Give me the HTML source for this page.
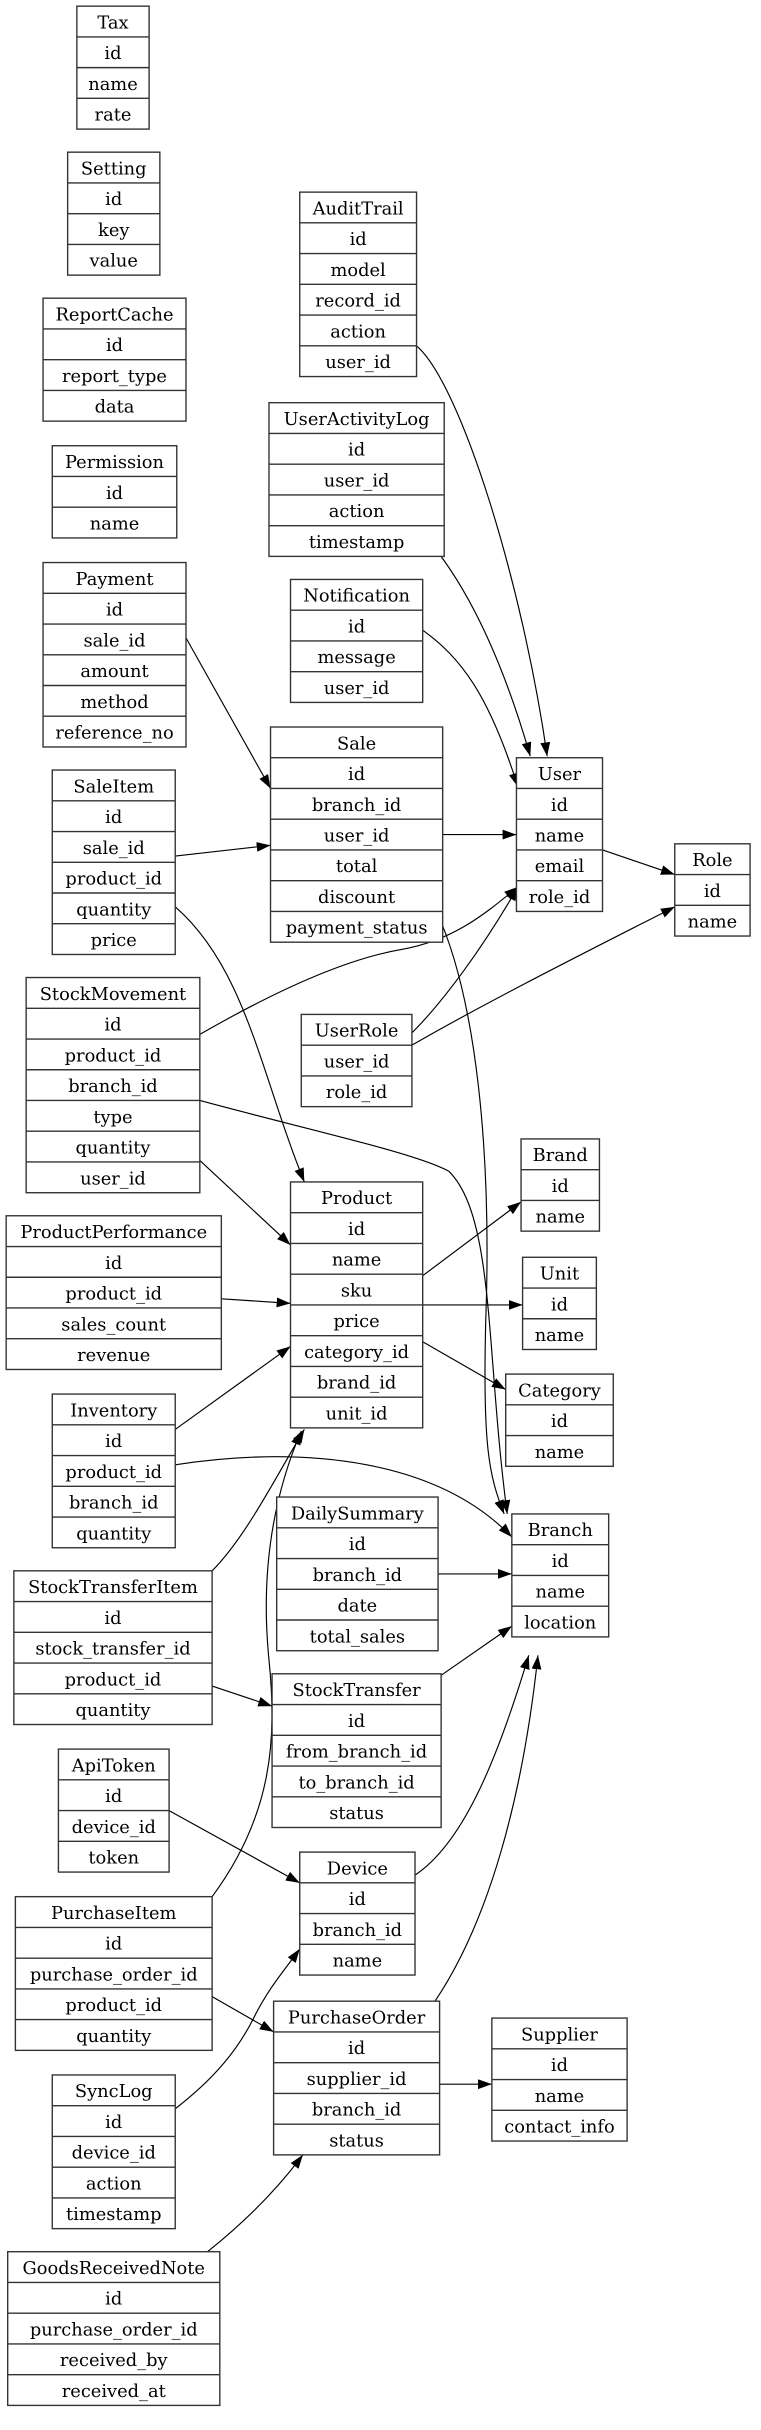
<!DOCTYPE html>
<html><head><meta charset="utf-8"><style>
html,body{margin:0;padding:0;background:#fff}
svg{display:block}
text{font-family:"DejaVu Serif",serif;font-size:11.6px;text-anchor:middle;fill:#000}
.t rect{fill:#fff;stroke:#333;stroke-width:0.9}
.t line{stroke:#333;stroke-width:0.9}
.e path{fill:none;stroke:#000;stroke-width:0.75}
</style></head><body>
<svg width="761" height="2430" viewBox="0 0 495.1 1581" xmlns="http://www.w3.org/2000/svg">
<defs><marker id="a" markerUnits="userSpaceOnUse" markerWidth="10" markerHeight="7" refX="9" refY="3.2" orient="auto"><path d="M0,0 L9,3.2 L0,6.4 z" fill="#000"/></marker></defs>

<g class="e">
<path marker-end="url(#a)" d="M271,225 C300,250 340,380 356,492"/>
<path marker-end="url(#a)" d="M284,358 C310,392 330,440 345,492"/>
<path marker-end="url(#a)" d="M275,410 C300,428 318,452 337,512"/>
<path marker-end="url(#a)" d="M121,415 L176,513"/>
<path marker-end="url(#a)" d="M114,557 L176,550"/>
<path marker-end="url(#a)" d="M288,543 L336,543"/>
<path marker-end="url(#a)" d="M392,553 L439,569"/>
<path marker-end="url(#a)" d="M268,672 C290,650 315,615 337,577"/>
<path marker-end="url(#a)" d="M268,680 C320,650 390,615 439,590"/>
<path marker-end="url(#a)" d="M130,673 C170,650 220,625 260,618 C295,612 315,595 337,577"/>
<path marker-end="url(#a)" d="M114,590 C160,630 170,700 198,769"/>
<path marker-end="url(#a)" d="M284,593 C310,650 320,750 316,860 C314,940 318,960 328,985"/>
<path marker-end="url(#a)" d="M130,716 C200,735 270,750 292,762 C322,792 316,880 330,985"/>
<path marker-end="url(#a)" d="M130,755 L189,810"/>
<path marker-end="url(#a)" d="M144,845 L189,848"/>
<path marker-end="url(#a)" d="M275,830 L339,782"/>
<path marker-end="url(#a)" d="M275,849 L340,849"/>
<path marker-end="url(#a)" d="M275,873 L329,904"/>
<path marker-end="url(#a)" d="M114,930 L189,876"/>
<path marker-end="url(#a)" d="M114,953 C200,940 285,950 333,1000"/>
<path marker-end="url(#a)" d="M138,1022 C160,1000 180,960 198,930"/>
<path marker-end="url(#a)" d="M138,1234 C178,1180 180,1130 175,1080 C170,1030 175,980 196,931"/>
<path marker-end="url(#a)" d="M285,1024 L333,1024"/>
<path marker-end="url(#a)" d="M138,1097 L177,1110"/>
<path marker-end="url(#a)" d="M287,1090 L333,1058"/>
<path marker-end="url(#a)" d="M110,1178 L195,1225"/>
<path marker-end="url(#a)" d="M270,1220 C300,1200 322,1150 344,1077"/>
<path marker-end="url(#a)" d="M114,1372 C140,1352 155,1333 165,1313 C175,1293 185,1282 195,1268"/>
<path marker-end="url(#a)" d="M138,1299 L178,1322"/>
<path marker-end="url(#a)" d="M283,1302 C318,1250 340,1170 350,1077"/>
<path marker-end="url(#a)" d="M286,1356 L320,1356"/>
<path marker-end="url(#a)" d="M135,1465 C160,1445 180,1425 197,1402"/>
</g>

<g class="t"><rect x="50" y="4" width="47" height="80"/><line x1="50" y1="24" x2="97" y2="24"/><line x1="50" y1="44" x2="97" y2="44"/><line x1="50" y1="64" x2="97" y2="64"/>
<text x="73.5" y="18.5">Tax</text><text x="73.5" y="38.5">id</text><text x="73.5" y="58.5">name</text><text x="73.5" y="78.5">rate</text></g>

<g class="t"><rect x="44" y="99" width="60" height="80"/><line x1="44" y1="119" x2="104" y2="119"/><line x1="44" y1="139" x2="104" y2="139"/><line x1="44" y1="159" x2="104" y2="159"/>
<text x="74" y="113.5">Setting</text><text x="74" y="133.5">id</text><text x="74" y="153.5">key</text><text x="74" y="173.5">value</text></g>

<g class="t"><rect x="28" y="194" width="93" height="80"/><line x1="28" y1="214" x2="121" y2="214"/><line x1="28" y1="234" x2="121" y2="234"/><line x1="28" y1="254" x2="121" y2="254"/>
<text x="74.5" y="208.5">ReportCache</text><text x="74.5" y="228.5">id</text><text x="74.5" y="248.5">report_type</text><text x="74.5" y="268.5">data</text></g>

<g class="t"><rect x="34" y="290" width="81" height="60"/><line x1="34" y1="310" x2="115" y2="310"/><line x1="34" y1="330" x2="115" y2="330"/>
<text x="74.5" y="304.5">Permission</text><text x="74.5" y="324.5">id</text><text x="74.5" y="344.5">name</text></g>

<g class="t"><rect x="28" y="366" width="93" height="120"/><line x1="28" y1="386" x2="121" y2="386"/><line x1="28" y1="406" x2="121" y2="406"/><line x1="28" y1="426" x2="121" y2="426"/><line x1="28" y1="446" x2="121" y2="446"/><line x1="28" y1="466" x2="121" y2="466"/>
<text x="74.5" y="380.5">Payment</text><text x="74.5" y="400.5">id</text><text x="74.5" y="420.5">sale_id</text><text x="74.5" y="440.5">amount</text><text x="74.5" y="460.5">method</text><text x="74.5" y="480.5">reference_no</text></g>

<g class="t"><rect x="34" y="501" width="80" height="120"/><line x1="34" y1="521" x2="114" y2="521"/><line x1="34" y1="541" x2="114" y2="541"/><line x1="34" y1="561" x2="114" y2="561"/><line x1="34" y1="581" x2="114" y2="581"/><line x1="34" y1="601" x2="114" y2="601"/>
<text x="74" y="515.5">SaleItem</text><text x="74" y="535.5">id</text><text x="74" y="555.5">sale_id</text><text x="74" y="575.5">product_id</text><text x="74" y="595.5">quantity</text><text x="74" y="615.5">price</text></g>

<g class="t"><rect x="17" y="636" width="113" height="140"/><line x1="17" y1="656" x2="130" y2="656"/><line x1="17" y1="676" x2="130" y2="676"/><line x1="17" y1="696" x2="130" y2="696"/><line x1="17" y1="716" x2="130" y2="716"/><line x1="17" y1="736" x2="130" y2="736"/><line x1="17" y1="756" x2="130" y2="756"/>
<text x="73.5" y="650.5">StockMovement</text><text x="73.5" y="670.5">id</text><text x="73.5" y="690.5">product_id</text><text x="73.5" y="710.5">branch_id</text><text x="73.5" y="730.5">type</text><text x="73.5" y="750.5">quantity</text><text x="73.5" y="770.5">user_id</text></g>

<g class="t"><rect x="4" y="791" width="140" height="100"/><line x1="4" y1="811" x2="144" y2="811"/><line x1="4" y1="831" x2="144" y2="831"/><line x1="4" y1="851" x2="144" y2="851"/><line x1="4" y1="871" x2="144" y2="871"/>
<text x="74" y="805.5">ProductPerformance</text><text x="74" y="825.5">id</text><text x="74" y="845.5">product_id</text><text x="74" y="865.5">sales_count</text><text x="74" y="885.5">revenue</text></g>

<g class="t"><rect x="34" y="907" width="80" height="100"/><line x1="34" y1="927" x2="114" y2="927"/><line x1="34" y1="947" x2="114" y2="947"/><line x1="34" y1="967" x2="114" y2="967"/><line x1="34" y1="987" x2="114" y2="987"/>
<text x="74" y="921.5">Inventory</text><text x="74" y="941.5">id</text><text x="74" y="961.5">product_id</text><text x="74" y="981.5">branch_id</text><text x="74" y="1001.5">quantity</text></g>

<g class="t"><rect x="9" y="1022" width="129" height="100"/><line x1="9" y1="1042" x2="138" y2="1042"/><line x1="9" y1="1062" x2="138" y2="1062"/><line x1="9" y1="1082" x2="138" y2="1082"/><line x1="9" y1="1102" x2="138" y2="1102"/>
<text x="73.5" y="1036.5">StockTransferItem</text><text x="73.5" y="1056.5">id</text><text x="73.5" y="1076.5">stock_transfer_id</text><text x="73.5" y="1096.5">product_id</text><text x="73.5" y="1116.5">quantity</text></g>

<g class="t"><rect x="38" y="1138" width="72" height="80"/><line x1="38" y1="1158" x2="110" y2="1158"/><line x1="38" y1="1178" x2="110" y2="1178"/><line x1="38" y1="1198" x2="110" y2="1198"/>
<text x="74" y="1152.5">ApiToken</text><text x="74" y="1172.5">id</text><text x="74" y="1192.5">device_id</text><text x="74" y="1212.5">token</text></g>

<g class="t"><rect x="10" y="1234" width="128" height="100"/><line x1="10" y1="1254" x2="138" y2="1254"/><line x1="10" y1="1274" x2="138" y2="1274"/><line x1="10" y1="1294" x2="138" y2="1294"/><line x1="10" y1="1314" x2="138" y2="1314"/>
<text x="74" y="1248.5">PurchaseItem</text><text x="74" y="1268.5">id</text><text x="74" y="1288.5">purchase_order_id</text><text x="74" y="1308.5">product_id</text><text x="74" y="1328.5">quantity</text></g>

<g class="t"><rect x="34" y="1350" width="80" height="100"/><line x1="34" y1="1370" x2="114" y2="1370"/><line x1="34" y1="1390" x2="114" y2="1390"/><line x1="34" y1="1410" x2="114" y2="1410"/><line x1="34" y1="1430" x2="114" y2="1430"/>
<text x="74" y="1364.5">SyncLog</text><text x="74" y="1384.5">id</text><text x="74" y="1404.5">device_id</text><text x="74" y="1424.5">action</text><text x="74" y="1444.5">timestamp</text></g>

<g class="t"><rect x="5" y="1465" width="138" height="100"/><line x1="5" y1="1485" x2="143" y2="1485"/><line x1="5" y1="1505" x2="143" y2="1505"/><line x1="5" y1="1525" x2="143" y2="1525"/><line x1="5" y1="1545" x2="143" y2="1545"/>
<text x="74" y="1479.5">GoodsReceivedNote</text><text x="74" y="1499.5">id</text><text x="74" y="1519.5">purchase_order_id</text><text x="74" y="1539.5">received_by</text><text x="74" y="1559.5">received_at</text></g>

<g class="t"><rect x="195" y="125" width="76" height="120"/><line x1="195" y1="145" x2="271" y2="145"/><line x1="195" y1="165" x2="271" y2="165"/><line x1="195" y1="185" x2="271" y2="185"/><line x1="195" y1="205" x2="271" y2="205"/><line x1="195" y1="225" x2="271" y2="225"/>
<text x="233" y="139.5">AuditTrail</text><text x="233" y="159.5">id</text><text x="233" y="179.5">model</text><text x="233" y="199.5">record_id</text><text x="233" y="219.5">action</text><text x="233" y="239.5">user_id</text></g>

<g class="t"><rect x="175" y="262" width="114" height="100"/><line x1="175" y1="282" x2="289" y2="282"/><line x1="175" y1="302" x2="289" y2="302"/><line x1="175" y1="322" x2="289" y2="322"/><line x1="175" y1="342" x2="289" y2="342"/>
<text x="232" y="276.5">UserActivityLog</text><text x="232" y="296.5">id</text><text x="232" y="316.5">user_id</text><text x="232" y="336.5">action</text><text x="232" y="356.5">timestamp</text></g>

<g class="t"><rect x="189" y="377" width="86" height="80"/><line x1="189" y1="397" x2="275" y2="397"/><line x1="189" y1="417" x2="275" y2="417"/><line x1="189" y1="437" x2="275" y2="437"/>
<text x="232" y="391.5">Notification</text><text x="232" y="411.5">id</text><text x="232" y="431.5">message</text><text x="232" y="451.5">user_id</text></g>

<g class="t"><rect x="176" y="473" width="112" height="140"/><line x1="176" y1="493" x2="288" y2="493"/><line x1="176" y1="513" x2="288" y2="513"/><line x1="176" y1="533" x2="288" y2="533"/><line x1="176" y1="553" x2="288" y2="553"/><line x1="176" y1="573" x2="288" y2="573"/><line x1="176" y1="593" x2="288" y2="593"/>
<text x="232" y="487.5">Sale</text><text x="232" y="507.5">id</text><text x="232" y="527.5">branch_id</text><text x="232" y="547.5">user_id</text><text x="232" y="567.5">total</text><text x="232" y="587.5">discount</text><text x="232" y="607.5">payment_status</text></g>

<g class="t"><rect x="196" y="660" width="72" height="60"/><line x1="196" y1="680" x2="268" y2="680"/><line x1="196" y1="700" x2="268" y2="700"/>
<text x="232" y="674.5">UserRole</text><text x="232" y="694.5">user_id</text><text x="232" y="714.5">role_id</text></g>

<g class="t"><rect x="189" y="769" width="86" height="160"/><line x1="189" y1="789" x2="275" y2="789"/><line x1="189" y1="809" x2="275" y2="809"/><line x1="189" y1="829" x2="275" y2="829"/><line x1="189" y1="849" x2="275" y2="849"/><line x1="189" y1="869" x2="275" y2="869"/><line x1="189" y1="889" x2="275" y2="889"/><line x1="189" y1="909" x2="275" y2="909"/>
<text x="232" y="783.5">Product</text><text x="232" y="803.5">id</text><text x="232" y="823.5">name</text><text x="232" y="843.5">sku</text><text x="232" y="863.5">price</text><text x="232" y="883.5">category_id</text><text x="232" y="903.5">brand_id</text><text x="232" y="923.5">unit_id</text></g>

<g class="t"><rect x="180" y="974" width="105" height="100"/><line x1="180" y1="994" x2="285" y2="994"/><line x1="180" y1="1014" x2="285" y2="1014"/><line x1="180" y1="1034" x2="285" y2="1034"/><line x1="180" y1="1054" x2="285" y2="1054"/>
<text x="232.5" y="988.5">DailySummary</text><text x="232.5" y="1008.5">id</text><text x="232.5" y="1028.5">branch_id</text><text x="232.5" y="1048.5">date</text><text x="232.5" y="1068.5">total_sales</text></g>

<g class="t"><rect x="177" y="1089" width="110" height="100"/><line x1="177" y1="1109" x2="287" y2="1109"/><line x1="177" y1="1129" x2="287" y2="1129"/><line x1="177" y1="1149" x2="287" y2="1149"/><line x1="177" y1="1169" x2="287" y2="1169"/>
<text x="232" y="1103.5">StockTransfer</text><text x="232" y="1123.5">id</text><text x="232" y="1143.5">from_branch_id</text><text x="232" y="1163.5">to_branch_id</text><text x="232" y="1183.5">status</text></g>

<g class="t"><rect x="195" y="1205" width="75" height="80"/><line x1="195" y1="1225" x2="270" y2="1225"/><line x1="195" y1="1245" x2="270" y2="1245"/><line x1="195" y1="1265" x2="270" y2="1265"/>
<text x="232.5" y="1219.5">Device</text><text x="232.5" y="1239.5">id</text><text x="232.5" y="1259.5">branch_id</text><text x="232.5" y="1279.5">name</text></g>

<g class="t"><rect x="178" y="1302" width="108" height="100"/><line x1="178" y1="1322" x2="286" y2="1322"/><line x1="178" y1="1342" x2="286" y2="1342"/><line x1="178" y1="1362" x2="286" y2="1362"/><line x1="178" y1="1382" x2="286" y2="1382"/>
<text x="232" y="1316.5">PurchaseOrder</text><text x="232" y="1336.5">id</text><text x="232" y="1356.5">supplier_id</text><text x="232" y="1376.5">branch_id</text><text x="232" y="1396.5">status</text></g>

<g class="t"><rect x="336" y="493" width="56" height="100"/><line x1="336" y1="513" x2="392" y2="513"/><line x1="336" y1="533" x2="392" y2="533"/><line x1="336" y1="553" x2="392" y2="553"/><line x1="336" y1="573" x2="392" y2="573"/>
<text x="364" y="507.5">User</text><text x="364" y="527.5">id</text><text x="364" y="547.5">name</text><text x="364" y="567.5">email</text><text x="364" y="587.5">role_id</text></g>

<g class="t"><rect x="439" y="549" width="49" height="60"/><line x1="439" y1="569" x2="488" y2="569"/><line x1="439" y1="589" x2="488" y2="589"/>
<text x="463.5" y="563.5">Role</text><text x="463.5" y="583.5">id</text><text x="463.5" y="603.5">name</text></g>

<g class="t"><rect x="339" y="741" width="51" height="60"/><line x1="339" y1="761" x2="390" y2="761"/><line x1="339" y1="781" x2="390" y2="781"/>
<text x="364.5" y="755.5">Brand</text><text x="364.5" y="775.5">id</text><text x="364.5" y="795.5">name</text></g>

<g class="t"><rect x="340" y="818" width="48" height="60"/><line x1="340" y1="838" x2="388" y2="838"/><line x1="340" y1="858" x2="388" y2="858"/>
<text x="364" y="832.5">Unit</text><text x="364" y="852.5">id</text><text x="364" y="872.5">name</text></g>

<g class="t"><rect x="329" y="894" width="70" height="60"/><line x1="329" y1="914" x2="399" y2="914"/><line x1="329" y1="934" x2="399" y2="934"/>
<text x="364" y="908.5">Category</text><text x="364" y="928.5">id</text><text x="364" y="948.5">name</text></g>

<g class="t"><rect x="333" y="985" width="63" height="80"/><line x1="333" y1="1005" x2="396" y2="1005"/><line x1="333" y1="1025" x2="396" y2="1025"/><line x1="333" y1="1045" x2="396" y2="1045"/>
<text x="364.5" y="999.5">Branch</text><text x="364.5" y="1019.5">id</text><text x="364.5" y="1039.5">name</text><text x="364.5" y="1059.5">location</text></g>

<g class="t"><rect x="320" y="1313" width="88" height="80"/><line x1="320" y1="1333" x2="408" y2="1333"/><line x1="320" y1="1353" x2="408" y2="1353"/><line x1="320" y1="1373" x2="408" y2="1373"/>
<text x="364" y="1327.5">Supplier</text><text x="364" y="1347.5">id</text><text x="364" y="1367.5">name</text><text x="364" y="1387.5">contact_info</text></g>
</svg>
</body></html>
